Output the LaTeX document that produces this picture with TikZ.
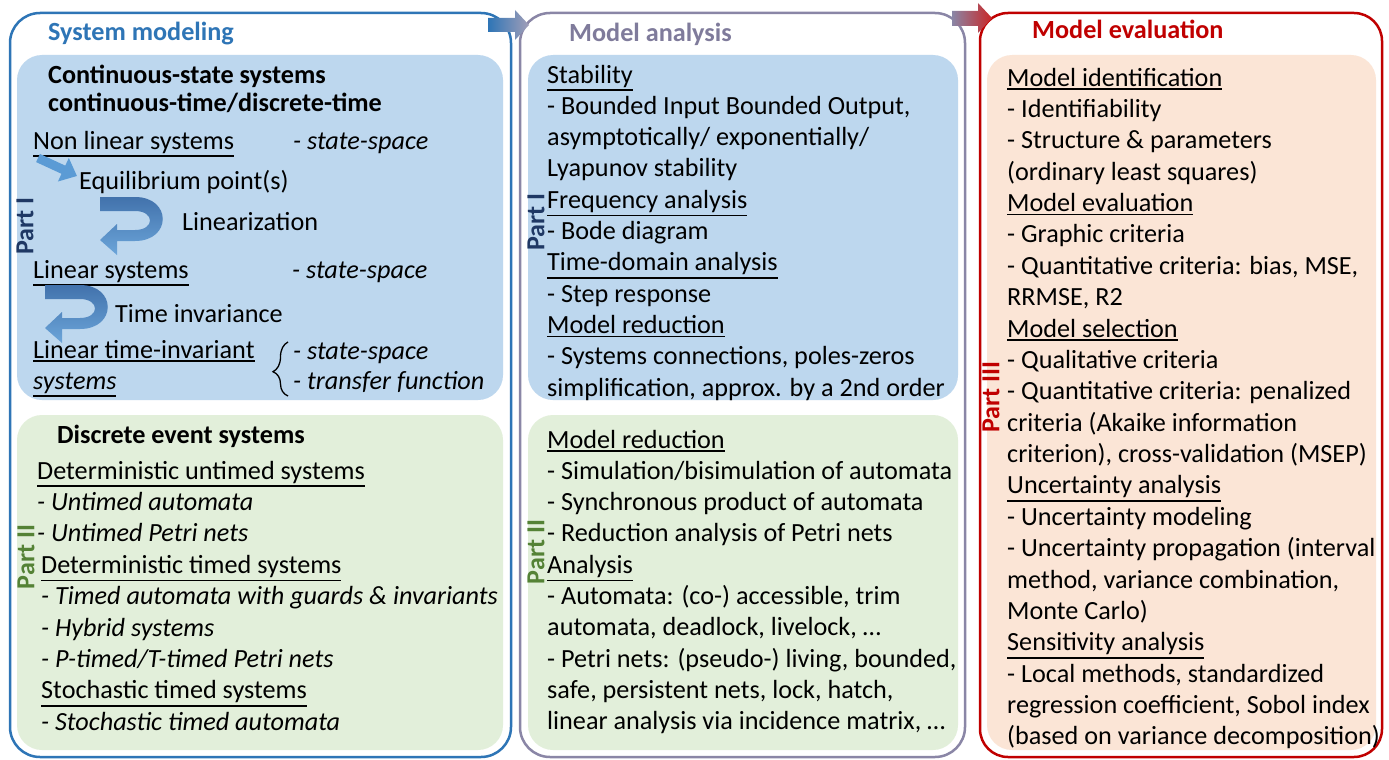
\documentclass[tikz,border=0pt]{standalone}
\usepackage{fontspec}
\setmainfont{Carlito}
\usetikzlibrary{arrows.meta,decorations.pathreplacing}
\definecolor{boxblue}{HTML}{2E75B6}
\definecolor{boxgray}{HTML}{8A86A6}
\definecolor{boxred}{HTML}{C00000}
\definecolor{panblue}{HTML}{BDD7EE}
\definecolor{pangreen}{HTML}{E2EFDA}
\definecolor{panpeach}{HTML}{FBE5D6}
\definecolor{headgray}{HTML}{7F7B9B}
\definecolor{partone}{HTML}{1F3864}
\definecolor{parttwo}{HTML}{548235}
\definecolor{arrblue}{HTML}{5B9BD5}
\definecolor{arrdark}{HTML}{4272AC}
\newcommand\myul[1]{\leavevmode\vtop{\hbox{#1}\kern2.2pt\hrule height 1.3pt}}
\newcommand\bodyfs{\fontsize{26.2}{31}\selectfont}
\begin{document}
\begin{tikzpicture}[x=1pt,y=-1pt,
  txt/.style={anchor=base west,inner sep=0pt,font=\bodyfs},
  itx/.style={txt,font=\bodyfs\itshape},
  bld/.style={txt,font=\bodyfs\bfseries},
  partlbl/.style={rotate=90,inner sep=0pt,font=\fontsize{26}{30}\selectfont\bfseries},
  outerbox/.style={line width=2.5pt,rounded corners=30pt,fill=white},
  panel/.style={rounded corners=25pt},
  uarrow/.pic={
    \shade[top color=arrdark,bottom color=arrblue!90!white]
      (0,0) -- (35,0) .. controls (72,0) and (72,44) .. (35,44) -- (17,44) -- (17,58)
      -- (0,43) -- (17,27) -- (17,33) -- (35,33) .. controls (55,33) and (55,14) .. (35,14)
      -- (0,14) -- cycle;
  }]
\useasboundingbox (0,0) rectangle (1389,760);
% outer boxes
\draw[outerbox,draw=boxblue] (10,13) rectangle (511,757);
\draw[outerbox,draw=boxgray] (520,13) rectangle (965,757);
\draw[outerbox,draw=boxred,rounded corners=28pt] (980,13) rectangle (1382,757);
% panels
\fill[panel,panblue] (17,55) rectangle (503,400);
\fill[panel,pangreen] (17,415) rectangle (503,750);
\fill[panel,panblue] (528,55) rectangle (958,400);
\fill[panel,pangreen] (528,415) rectangle (958,750);
\fill[panel,panpeach] (987,55) rectangle (1376,750);
% transition arrows
\coordinate (t1) at (488,18);
\coordinate (t2) at (952,11);
\shade[left color=boxblue,middle color=panblue!70!white,right color=boxgray!80!white]
  (t1) -- ++(27,0) -- ++(0,-8) -- ++(14,15) -- ++(-14,15) -- ++(0,-8) -- ++(-27,0) -- cycle;
\shade[left color=boxgray,middle color=panpeach,right color=boxred!85!white]
  (t2) -- ++(26,0) -- ++(0,-8) -- ++(14,15) -- ++(-14,15) -- ++(0,-7) -- ++(-26,0) -- cycle;
% headings
\node[bld,text=boxblue] (h1) at (48,41) {System modeling};
\node[bld,text=headgray] (h2) at (569,42) {Model analysis};
\node[bld,text=boxred] (h3) at (1032,39) {Model evaluation};
% part labels
\node[partlbl,text=partone] (p1) at (25,226) {Part I};
\node[partlbl,text=parttwo] (p2) at (26,557) {Part II};
\node[partlbl,text=partone] (p3) at (536,222) {Part I};
\node[partlbl,text=parttwo] (p4) at (536,552) {Part II};
\node[partlbl,text=boxred] (p5) at (991,397) {Part III};
% left blue panel
\node[bld] (cs1) at (48,83) {Continuous-state systems};
\node[bld] (cs2) at (48,111) {continuous-time/discrete-time};
\node[txt] (nl) at (33,149) {\myul{Non linear systems}};
\node[itx] (ss1) at (293,149) {- state-space};
\node[txt] (eq) at (79,189) {Equilibrium point(s)};
\node[txt] (lz) at (182,230) {Linearization};
\node[txt] (ls) at (33,278) {\myul{Linear systems}};
\node[itx] (ss2) at (292,278) {- state-space};
\node[txt] (ti) at (115,322) {Time invariance};
\node[txt] (lti) at (33,358) {\myul{Linear time-invariant}};
\node[txt] (lti2) at (33,389) {\myul{\itshape systems}};
\node[itx] (ss3) at (293,359) {- state-space};
\node[itx] (tf) at (293,389) {- transfer function};
\coordinate (sa1) at (38,158);
\coordinate (sa2) at (77,176);
\draw[arrblue,line width=9pt,-{Triangle[width=25pt,length=15pt]}] (sa1) -- (sa2);
\pic at (100,197) {uarrow};
\pic at (45,285) {uarrow};
\coordinate (br1) at (288,396);
\coordinate (br2) at (288,342);
\draw[decorate,decoration={brace,amplitude=15pt,aspect=0.45},line width=1.3pt] (br1) -- (br2);
% left green panel
\node[bld] (des) at (57,443) {Discrete event systems};
\foreach \xx/\t [count=\i from 0] in {
  37/{\myul{Deterministic untimed systems}},
  37/{\itshape - Untimed automata},
  37/{\itshape - Untimed Petri nets},
  41/{\myul{Deterministic timed systems}},
  41/{\itshape - Timed automata with guards \& invariants},
  41/{\itshape - Hybrid systems},
  41/{\itshape - P-timed/T-timed Petri nets},
  41/{\myul{Stochastic timed systems}},
  41/{\itshape - Stochastic timed automata}}
  \node[txt] (lg\i) at (\xx,{479+31.4*\i}) {\t};
% middle blue panel
\foreach \t [count=\i from 0] in {
  {\myul{Stability}},
  {- Bounded Input Bounded Output,},
  {asymptotically/ exponentially/},
  {Lyapunov stability},
  {\myul{Frequency analysis}},
  {- Bode diagram},
  {\myul{Time-domain analysis}},
  {- Step response},
  {\myul{Model reduction}},
  {- Systems connections, poles-zeros},
  {simplification, approx. by a 2nd order}}
  \node[txt] (mb\i) at (547,{83+31.3*\i}) {\t};
% middle green panel
\foreach \t [count=\i from 0] in {
  {\myul{Model reduction}},
  {- Simulation/bisimulation of automata},
  {- Synchronous product of automata},
  {- Reduction analysis of Petri nets},
  {\myul{Analysis}},
  {- Automata: (co-) accessible, trim},
  {automata, deadlock, livelock, …},
  {- Petri nets: (pseudo-) living, bounded,},
  {safe, persistent nets, lock, hatch,},
  {linear analysis via incidence matrix, …}}
  \node[txt] (mg\i) at (547,{448+31.33*\i}) {\t};
% right panel
\foreach \t [count=\i from 0] in {
  {\myul{Model identification}},
  {- Identifiability},
  {- Structure \& parameters},
  {(ordinary least squares)},
  {\myul{Model evaluation}},
  {- Graphic criteria},
  {- Quantitative criteria: bias, MSE,},
  {RRMSE, R2},
  {\myul{Model selection}},
  {- Qualitative criteria},
  {- Quantitative criteria: penalized},
  {criteria (Akaike information},
  {criterion), cross-validation (MSEP)},
  {\myul{Uncertainty analysis}},
  {- Uncertainty modeling},
  {- Uncertainty propagation (interval},
  {method, variance combination,},
  {Monte Carlo)},
  {\myul{Sensitivity analysis}},
  {- Local methods, standardized},
  {regression coefficient, Sobol index},
  {(based on variance decomposition)}}
  \node[txt] (rp\i) at (1007,{86+31.38*\i}) {\t};
\end{tikzpicture}
\end{document}
